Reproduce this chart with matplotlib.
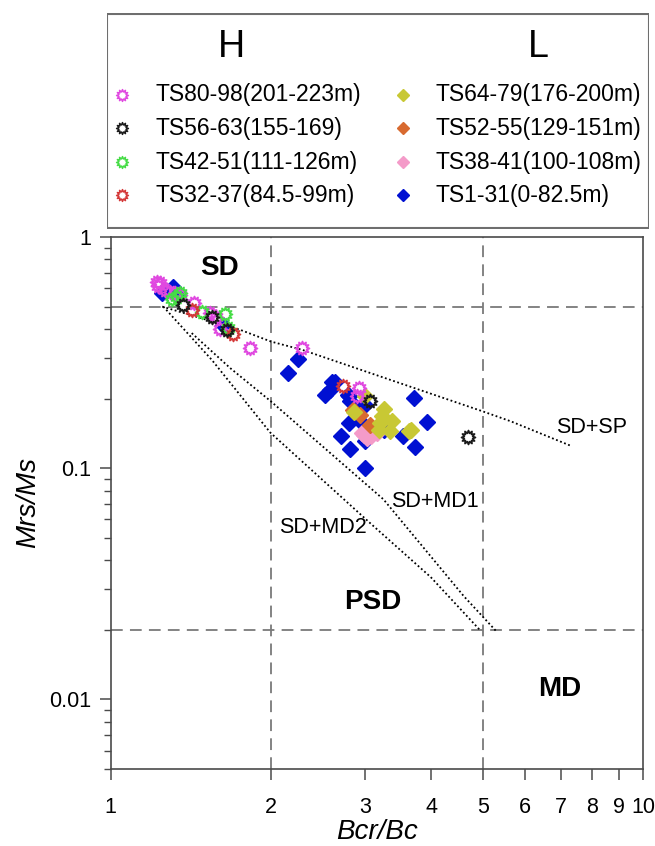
import numpy as np
import matplotlib
matplotlib.use("Agg")
import matplotlib.pyplot as plt
import matplotlib.path as mpath
from matplotlib.ticker import FixedLocator, FixedFormatter, LogLocator, NullFormatter, NullLocator
from matplotlib.patches import Rectangle

plt.rcParams['font.family'] = ['Liberation Sans', 'DejaVu Sans']

# ---------------- data (Bcr/Bc, Mrs/Ms) ----------------
# H group (open "sun" markers)
ts80_x = [1.221, 1.229, 1.266, 1.293, 1.322, 1.240, 1.350, 1.431, 1.538, 1.577, 1.606, 1.829, 2.287, 2.920, 2.900]
ts80_y = [0.641, 0.614, 0.590, 0.580, 0.571, 0.630, 0.560, 0.517, 0.471, 0.453, 0.400, 0.331, 0.331, 0.222, 0.206]
ts56_x = [1.370, 1.549, 1.652, 3.066, 4.690]
ts56_y = [0.508, 0.453, 0.397, 0.1945, 0.1366]
ts42_x = [1.302, 1.351, 1.331, 1.483, 1.641, 1.663]
ts42_y = [0.538, 0.571, 0.552, 0.476, 0.465, 0.403]
ts32_x = [1.420, 1.700, 2.733]
ts32_y = [0.484, 0.381, 0.226]

# L group (filled diamonds)
ts64_x = [3.009, 2.860, 3.260, 3.235, 3.380, 3.190, 3.350, 3.660, 3.210, 3.630]
ts64_y = [0.2045, 0.1744, 0.1804, 0.1676, 0.1595, 0.147, 0.1445, 0.147, 0.157, 0.1445]
ts52_x = [2.850, 2.940, 3.066]
ts52_y = [0.179, 0.1705, 0.1543]
ts38_x = [2.996, 3.080, 3.160, 3.030, 2.960]
ts38_y = [0.1398, 0.1374, 0.142, 0.1355, 0.1420]
ts1_x = [1.248, 1.312, 1.331, 1.628, 2.244, 2.150, 2.531, 2.586, 2.634, 2.605, 2.787, 2.820,
         3.009, 2.920, 2.800, 3.710, 3.920, 3.540, 3.720, 2.710, 2.810, 3.009, 3.280, 3.009,
         3.260, 2.990, 2.800]
ts1_y = [0.571, 0.610, 0.562, 0.417, 0.297, 0.258, 0.208, 0.2186, 0.236, 0.237, 0.208, 0.1945,
         0.188, 0.162, 0.157, 0.201, 0.158, 0.138, 0.123, 0.1374, 0.1213, 0.1308, 0.151, 0.1004,
         0.147, 0.188, 0.2047]

# Dunlop mixing curves
sdsp_x = [1.25, 1.75, 2.00, 2.29, 5.00, 5.64, 7.31]
sdsp_y = [0.50, 0.397, 0.353, 0.325, 0.176, 0.1595, 0.125]
sdmd1_x = [1.42, 1.677, 2.00, 3.253, 4.60, 5.32]
sdmd1_y = [0.384, 0.271, 0.1945, 0.0733, 0.028, 0.0195]
sdmd2_x = [1.256, 1.549, 1.994, 3.075, 3.99, 4.95]
sdmd2_y = [0.50, 0.294, 0.1426, 0.0577, 0.0338, 0.0198]

# region boundaries
bound_x = [2, 5]
bound_y = [0.5, 0.02]

x_ticks = [1, 2, 3, 4, 5, 6, 7, 8, 9, 10]
x_ticklabels = ['1', '2', '3', '4', '5', '6', '7', '8', '9', '10']
y_ticks = [0.01, 0.1, 1]
y_ticklabels = ['0.01', '0.1', '1']

h_labels = ['TS80-98(201-223m)', 'TS56-63(155-169)', 'TS42-51(111-126m)', 'TS32-37(84.5-99m)']
h_colors = ['#E048E0', '#1A1A1A', '#45DC45', '#D43838']
l_labels = ['TS64-79(176-200m)', 'TS52-55(129-151m)', 'TS38-41(100-108m)', 'TS1-31(0-82.5m)']
l_colors = ['#C8C834', '#D86A30', '#F49BC9', '#0010D2']

# ---------------- marker ----------------
n = 12
ang = np.linspace(0, 2 * np.pi, 2 * n, endpoint=False) + np.pi / 2
rad = np.where(np.arange(2 * n) % 2 == 0, 1.0, 0.62)
verts = np.column_stack([rad * np.cos(ang), rad * np.sin(ang)])
verts = np.vstack([verts, verts[:1]])
codes = [mpath.Path.MOVETO] + [mpath.Path.LINETO] * (2 * n - 1) + [mpath.Path.CLOSEPOLY]
sun = mpath.Path(verts, codes)

W, H = 655, 846
fig = plt.figure(figsize=(W / 100, H / 100), dpi=100)

# ---------------- main axes ----------------
ax = fig.add_axes([110.6 / W, 1 - 769 / H, (643.3 - 110.6) / W, (769 - 237) / H])
ax.set_xscale('log')
ax.set_yscale('log')
ax.set_xlim(1, 10)
ax.set_ylim(0.005, 1)

gray = '#7a7a7a'
for bx in bound_x:
    ax.axvline(bx, color=gray, lw=1.3, dashes=(6.5, 4.0), zorder=1)
for by in bound_y:
    ax.axhline(by, color=gray, lw=1.3, dashes=(6.5, 4.0), zorder=1)

dot = dict(color='black', lw=1.3, linestyle=(0, (1, 1.4)), zorder=2)
ax.plot(sdsp_x, sdsp_y, **dot)
ax.plot(sdmd1_x, sdmd1_y, **dot)
ax.plot(sdmd2_x, sdmd2_y, **dot)

dms = 8
ax.plot(ts1_x, ts1_y, 'D', ms=dms, color=l_colors[3], mec=l_colors[3], ls='none', zorder=3)
ax.plot(ts38_x, ts38_y, 'D', ms=dms, color=l_colors[2], mec=l_colors[2], ls='none', zorder=3)
ax.plot(ts52_x, ts52_y, 'D', ms=dms, color=l_colors[1], mec=l_colors[1], ls='none', zorder=3)
ax.plot(ts64_x, ts64_y, 'D', ms=dms, color=l_colors[0], mec=l_colors[0], ls='none', zorder=3)

sms = 10
for xs, ys, c in [(ts80_x, ts80_y, h_colors[0]), (ts42_x, ts42_y, h_colors[2]),
                  (ts32_x, ts32_y, h_colors[3]), (ts56_x, ts56_y, h_colors[1])]:
    ax.plot(xs, ys, marker=sun, ms=sms, mfc='none', mec=c, mew=1.3, ls='none', zorder=4)

ax.text(1.60, 0.733, 'SD', fontsize=20, fontweight='bold', ha='center', va='center')
ax.text(3.107, 0.0263, 'PSD', fontsize=20, fontweight='bold', ha='center', va='center')
ax.text(6.96, 0.0111, 'MD', fontsize=20, fontweight='bold', ha='center', va='center')
ax.text(6.85, 0.1494, 'SD+SP', fontsize=15.5, ha='left', va='center')
ax.text(3.354, 0.0721, 'SD+MD1', fontsize=15.5, ha='left', va='center')
ax.text(2.067, 0.0553, 'SD+MD2', fontsize=15.5, ha='left', va='center')

ax.xaxis.set_major_locator(FixedLocator(x_ticks))
ax.xaxis.set_major_formatter(FixedFormatter(x_ticklabels))
ax.xaxis.set_minor_locator(NullLocator())
ax.yaxis.set_major_locator(FixedLocator(y_ticks))
ax.yaxis.set_major_formatter(FixedFormatter(y_ticklabels))
ax.yaxis.set_minor_locator(LogLocator(base=10, subs=np.arange(2, 10)))
ax.yaxis.set_minor_formatter(NullFormatter())

spine_c = '#4a4a4a'
for s in ax.spines.values():
    s.set_color(spine_c)
    s.set_linewidth(1.2)
ax.tick_params(axis='both', which='major', direction='out', length=8, width=1.1,
               color=spine_c, labelsize=15.5, pad=6)
ax.tick_params(axis='y', which='minor', direction='out', length=5, width=1.0, color=spine_c)
ax.tick_params(axis='x', which='major', pad=12)

ax.set_xlabel('Bcr/Bc', fontsize=20, style='italic', labelpad=1)
ax.set_ylabel('Mrs/Ms', fontsize=20, style='italic', labelpad=6)

# ---------------- legend box ----------------
lx0, ly0, lx1, ly1 = 106.5, 13.5, 649.3, 229
lax = fig.add_axes([lx0 / W, 1 - ly1 / H, (lx1 - lx0) / W, (ly1 - ly0) / H])
lax.set_xlim(lx0, lx1)
lax.set_ylim(ly1, ly0)
lax.axis('off')
lax.add_patch(Rectangle((lx0 + 0.5, ly0 + 0.5), lx1 - lx0 - 1, ly1 - ly0 - 1,
                        fill=False, ec='#6e6e6e', lw=1.5))
lax.text(231, 47, 'H', fontsize=27, ha='center', va='center')
lax.text(538, 47, 'L', fontsize=27, ha='center', va='center')
rows = [95, 128.5, 162, 195.5]
for i in range(4):
    lax.plot([122], [rows[i]], marker=sun, ms=8.5, mfc='none', mec=h_colors[i], mew=1.1, ls='none')
    lax.text(155, rows[i], h_labels[i], fontsize=16.5, ha='left', va='center')
    lax.plot([403], [rows[i]], marker='D', ms=6.5, color=l_colors[i], ls='none')
    lax.text(436, rows[i], l_labels[i], fontsize=16.5, ha='left', va='center')

fig.savefig('out.png', dpi=100)
